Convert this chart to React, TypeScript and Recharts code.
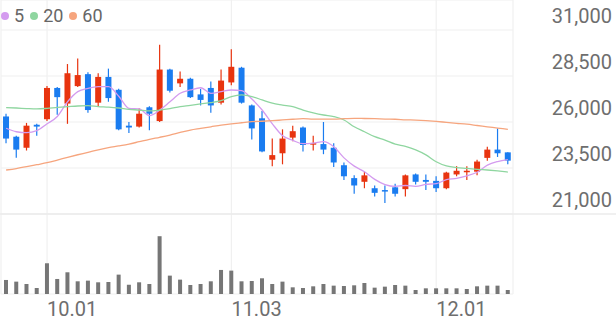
import React from 'react';
import { ComposedChart, Bar, Line, XAxis, YAxis, CartesianGrid, Legend } from 'recharts';

const dates = [
  '09.25', '09.26', '09.29', '09.30', '10.01', '10.02', '10.10', '10.13', '10.14', '10.15',
  '10.16', '10.17', '10.20', '10.21', '10.22', '10.23', '10.24', '10.27', '10.28', '10.29',
  '10.30', '10.31', '11.03', '11.04', '11.05', '11.06', '11.07', '11.10', '11.11', '11.12',
  '11.13', '11.14', '11.17', '11.18', '11.19', '11.20', '11.21', '11.24', '11.25', '11.26',
  '11.27', '11.28', '12.01', '12.02', '12.03', '12.04', '12.05', '12.08', '12.09', '12.10',
];
const dateTicks = ['10.01', '11.03', '12.01'];
const priceTicks = [21000, 23500, 26000, 28500, 31000];
const maNames = ['5', '20', '60'];

const opens = [
  26300, 25200, 24600, 25850, 26150, 27850, 27000, 27950, 28600, 27050,
  28450, 27750, 25800, 25750, 26800, 26050, 28850, 28100, 28350, 27500,
  27850, 27050, 28150, 28950, 26900, 26200, 23950, 24300, 25150, 25700,
  24800, 24800, 24600, 23650, 22950, 22750, 22400, 22300, 22450, 22350,
  23150, 22850, 22800, 22400, 23150, 23300, 23300, 24050, 24500, 24350,
];
const highs = [
  26450, 25250, 25950, 25900, 27950, 27900, 29150, 29450, 28700, 28650,
  28900, 27800, 26000, 26750, 26850, 30200, 28900, 28750, 28400, 27800,
  28200, 28850, 29950, 29000, 26950, 26600, 25100, 25600, 25800, 25750,
  25250, 26000, 24850, 23800, 23100, 23300, 22550, 22550, 22650, 23150,
  23200, 23150, 23050, 23300, 23600, 23600, 23950, 24650, 25650, 24350,
];
const lows = [
  24850, 24050, 24450, 25250, 26050, 26400, 25900, 27900, 26500, 26850,
  27100, 25550, 25400, 25700, 25550, 26000, 27600, 27900, 27300, 26900,
  26500, 26950, 28000, 27000, 25050, 24350, 23600, 23700, 24950, 24400,
  24450, 24250, 23550, 22850, 22100, 22400, 21950, 21600, 21950, 21950,
  22600, 22300, 22200, 22350, 23050, 22850, 23100, 23900, 24100, 23700,
];
const closes = [
  25100, 24500, 25800, 25750, 27850, 27350, 28650, 28550, 26650, 28450,
  27300, 25600, 25700, 26450, 26450, 28850, 27700, 28350, 27350, 27200,
  26900, 28250, 29000, 27050, 25650, 24400, 24200, 25100, 25500, 24750,
  24850, 24500, 23800, 23050, 22550, 23100, 22150, 22250, 22100, 23100,
  22750, 22750, 22400, 23250, 23350, 23350, 23850, 24500, 24300, 23900,
];
const volumes = [
  420000, 370000, 300000, 180000, 920000, 450000, 650000, 380000, 400000, 350000,
  360000, 580000, 280000, 350000, 300000, 1730000, 550000, 430000, 270000, 300000,
  380000, 720000, 700000, 380000, 390000, 470000, 300000, 370000, 200000, 180000,
  230000, 300000, 250000, 240000, 260000, 330000, 190000, 220000, 270000, 250000,
  120000, 170000, 170000, 170000, 170000, 150000, 230000, 250000, 250000, 120000,
];
const ma5 = [
  25660, 25470, 25420, 25530, 25900, 26300, 27100, 27650, 27830, 27920,
  27920, 27400, 26740, 26710, 26350, 26650, 27100, 27560, 27740, 27860,
  27550, 27650, 27740, 27700, 27250, 26650, 25900, 25250, 25000, 24820,
  24850, 24930, 24650, 24050, 23600, 23300, 22880, 22600, 22500, 22550,
  22500, 22610, 22650, 22870, 22940, 23070, 23270, 23660, 23850, 23950,
];
const ma20 = [
  26780, 26760, 26730, 26710, 26740, 26790, 26830, 26870, 26890, 26840,
  26810, 26760, 26690, 26650, 26600, 26650, 26730, 26830, 26900, 26980,
  27050, 27160, 27380, 27470, 27380, 27200, 27020, 26920, 26830, 26650,
  26500, 26380, 26290, 26110, 25740, 25470, 25200, 25020, 24800, 24670,
  24480, 24210, 23840, 23610, 23520, 23480, 23430, 23390, 23340, 23280,
];
const ma60 = [
  23390, 23470, 23570, 23680, 23790, 23930, 24080, 24220, 24350, 24490,
  24610, 24700, 24800, 24930, 25060, 25170, 25290, 25430, 25560, 25650,
  25740, 25830, 25900, 25960, 26020, 26040, 26070, 26110, 26150, 26180,
  26160, 26160, 26160, 26180, 26200, 26190, 26180, 26160, 26150, 26120,
  26100, 26070, 26030, 25980, 25930, 25880, 25810, 25740, 25670, 25600,
];

const data = dates.map((date, i) => ({
  date,
  open: opens[i],
  high: highs[i],
  low: lows[i],
  close: closes[i],
  volume: volumes[i],
  ma5: ma5[i],
  ma20: ma20[i],
  ma60: ma60[i],
}));

const RED = '#e8340f';
const BLUE = '#1a7cf0';
const FONT = 'Roboto, "Noto Sans", sans-serif';

const Candle = (props: any) => {
  const { x, y, width, height, payload } = props;
  const { open, close, high, low } = payload;
  const color = close >= open ? RED : BLUE;
  const top = Math.min(y, y + height);
  const span = Math.abs(height);
  const k = span / (high - low || 1);
  const bodyTop = top + (high - Math.max(open, close)) * k;
  const bodyH = Math.max(Math.abs(open - close) * k, 1.5);
  const cx = x + width / 2;
  return (
    <g>
      <line x1={cx} x2={cx} y1={top} y2={top + span} stroke={color} strokeWidth={1.2} />
      <rect x={cx - 3} y={bodyTop} width={6} height={bodyH} fill={color} />
    </g>
  );
};

const PriceTick = ({ x, y, payload }: any) => (
  <g>
    {payload.value === 21000 && (
      <line x1={0} x2={616} y1={y} y2={y} stroke="#ebebeb" strokeWidth={1.5} />
    )}
    <text x={x + 99} y={y - 7} textAnchor="end" fill="#6e6e6e" fontSize={20} fontFamily={FONT}>
      {payload.value.toLocaleString('en-US')}
    </text>
  </g>
);

const BaseLineTick = ({ y }: any) => (
  <line x1={0} x2={616} y1={y} y2={y} stroke="#e6e6e6" strokeWidth={1.5} />
);

const DateTick = ({ x, y, payload }: any) => (
  <text x={x} y={y + 22} textAnchor="start" fill="#6e6e6e" fontSize={20} fontFamily={FONT}>
    {payload.value}
  </text>
);

// only the moving averages, in their own order (5, 20, 60)
const LegendContent = ({ payload }: any) => {
  const items = maNames
    .map((n) => (payload || []).find((p: any) => p.value === n))
    .filter(Boolean);
  return (
    <div style={{ display: 'flex', alignItems: 'center', fontFamily: FONT, fontSize: 18, color: '#666' }}>
      {items.map((p: any) => (
        <span key={p.value} style={{ display: 'flex', alignItems: 'center', marginRight: 5, marginLeft: 1 }}>
          <span
            style={{ width: 8, height: 8, borderRadius: 4, background: p.color, marginRight: 5, display: 'inline-block' }}
          />
          {p.value}
        </span>
      ))}
    </div>
  );
};

export default function App() {
  return (
    <div style={{ position: 'absolute', left: 0, top: 0, width: 616, height: 321, background: '#fff' }}>
      <ComposedChart width={616} height={321} data={data} margin={{ top: 0, right: 0, left: 1, bottom: 0 }}>
        <CartesianGrid xAxisId="price" yAxisId="price" stroke="#f0f0f0" strokeWidth={1.2} />
        <XAxis
          xAxisId="price"
          dataKey="date"
          ticks={dateTicks}
          interval={0}
          height={27}
          axisLine={false}
          tickLine={false}
          tickSize={0}
          tickMargin={0}
          tick={<DateTick />}
        />
        <XAxis xAxisId="vol" dataKey="date" hide />
        <YAxis
          yAxisId="price"
          orientation="right"
          type="number"
          domain={[16652, 32630]}
          allowDataOverflow
          ticks={priceTicks}
          width={103}
          axisLine={false}
          tickLine={false}
          tickSize={0}
          tickMargin={0}
          tick={<PriceTick />}
        />
        <YAxis
          yAxisId="vol"
          orientation="right"
          type="number"
          domain={[0, 8800000]}
          allowDataOverflow
          ticks={[0]}
          width={0}
          axisLine={false}
          tickLine={false}
          tickSize={0}
          tick={<BaseLineTick />}
        />
        <Legend
          verticalAlign="middle"
          align="center"
          wrapperStyle={{ top: 5, left: 0, width: 'auto', height: 'auto' }}
          content={<LegendContent />}
        />
        <Line xAxisId="price" yAxisId="price" type="monotone" dataKey="ma5" name="5" stroke="#d49bef" strokeWidth={1.3} dot={false} activeDot={false} isAnimationActive={false} />
        <Line xAxisId="price" yAxisId="price" type="monotone" dataKey="ma20" name="20" stroke="#8fd6a0" strokeWidth={1.3} dot={false} activeDot={false} isAnimationActive={false} />
        <Line xAxisId="price" yAxisId="price" type="monotone" dataKey="ma60" name="60" stroke="#f6a57e" strokeWidth={1.3} dot={false} activeDot={false} isAnimationActive={false} />
        <Bar
          xAxisId="price"
          yAxisId="price"
          dataKey={(d: any) => [d.low, d.high]}
          shape={<Candle />}
          legendType="none"
          isAnimationActive={false}
        />
        <Bar
          xAxisId="vol"
          yAxisId="vol"
          dataKey="volume"
          name="volume"
          fill="#767676"
          barSize={4}
          legendType="none"
          isAnimationActive={false}
        />
      </ComposedChart>
    </div>
  );
}
